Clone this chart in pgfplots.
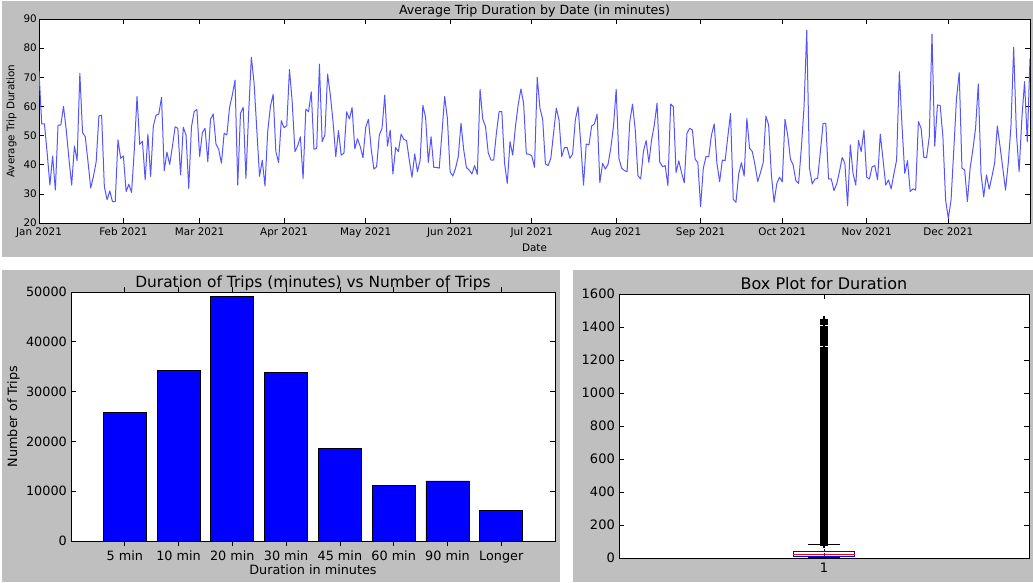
\documentclass[border=0pt]{standalone}
\usepackage{fontspec}
\setmainfont{DejaVu Sans}
\usepackage{pgfplots}
\usepackage{pgfplotstable}
\pgfplotsset{compat=1.18}

\definecolor{panelgrey}{gray}{0.75}
\definecolor{lineblue}{RGB}{85,85,255}

% daily average trip duration, 1 Jan 2021 .. 31 Dec 2021 (one row per day)
\pgfplotstableread[row sep=\\]{
dur\\
72\\54\\54\\44\\33\\43\\31.3\\
53.6\\53.6\\60\\52\\42\\33\\46.4\\
41.4\\71.4\\51\\49.6\\41\\32\\36\\
41\\56.7\\57\\32.5\\28\\31\\27.3\\
27.3\\48.5\\42.2\\43\\30.8\\33.3\\30.5\\
45\\63.4\\47\\48\\34.8\\50.5\\36\\
53.3\\57\\57.4\\63.1\\38\\44.3\\40.1\\
46.2\\53\\52.5\\36.5\\52.8\\50.2\\31.9\\
53\\58.2\\59\\42.8\\51\\52.5\\41\\
55.6\\57.4\\47.1\\45.3\\40.5\\50.8\\50.2\\
59.7\\63.9\\69\\33\\57.6\\59.7\\35.3\\
57.6\\76.9\\68\\52\\36\\41.5\\32.7\\
51.3\\60\\64.2\\44.5\\40.8\\55.1\\52.7\\
53.4\\72.7\\61.6\\44.5\\46.4\\49.6\\35.3\\
59.1\\58.2\\65\\45.3\\45.6\\74.5\\47.9\\
50.2\\71.1\\64\\54.8\\42.8\\51.7\\43.3\\
43.9\\58.2\\55.7\\59.6\\45.4\\48.9\\46.2\\
42.4\\52.8\\55.6\\45.6\\38.5\\39.3\\50.2\\
52.5\\63.9\\46.4\\51.9\\36.8\\45.9\\44.5\\
50.5\\48.7\\48.3\\41.6\\35.7\\43.7\\37.6\\
41.6\\60.4\\56.2\\40.8\\49.6\\39.1\\39.1\\
38.8\\50.8\\63.4\\55.9\\37.6\\36.1\\38.8\\
42.8\\54.2\\45.1\\39\\38.2\\36.8\\39.7\\
36.7\\65.9\\55.6\\53.1\\44.1\\41.6\\41.6\\
50.8\\58.2\\58.2\\40.5\\33.6\\47.9\\43.3\\
53.1\\60.5\\66\\61.1\\43.7\\43.6\\43\\
39.1\\70\\59.4\\55.6\\40.3\\39.7\\42.2\\
50.8\\59.4\\55.4\\42.8\\45.9\\45.9\\42.2\\
43.7\\55.4\\59.9\\47.1\\33\\47.1\\46.8\\
53.3\\54\\57.4\\33.8\\40.5\\38.5\\40.1\\
45.6\\53.1\\65.9\\42.2\\38.8\\38\\37.6\\
54.8\\60.8\\51.9\\36.2\\35.1\\44.5\\48.3\\
40.8\\48.5\\53.6\\61.1\\41\\39.3\\39.7\\
32.8\\60.8\\59.9\\37.3\\41.3\\37.3\\33.8\\
50.8\\52.5\\51.9\\41.9\\40.7\\25.6\\38.8\\
42.8\\42.8\\50.2\\54\\40.5\\34.2\\41.6\\
41.4\\49.6\\57.6\\28.1\\27.1\\36.8\\40.7\\
36.1\\55.9\\45.6\\44.5\\39.9\\34.2\\37.3\\
40.7\\56.7\\53.6\\36.5\\27.1\\33.6\\35.7\\
34.1\\55.6\\50.2\\41.9\\39.9\\34.5\\33.6\\
45.6\\59.9\\86.2\\38.8\\33.4\\35.1\\35.3\\
44.5\\54.2\\54.2\\35.1\\35.1\\31.1\\33.4\\
37.6\\42.5\\40.5\\25.9\\46.8\\37\\33\\
48.3\\44.5\\51.9\\35.7\\35.1\\39.3\\39.7\\
34.8\\50.5\\41.9\\33\\34.8\\31.7\\36.8\\
41.6\\71.9\\53.1\\37\\41.4\\30.8\\31.7\\
31.3\\54.8\\52.5\\42.5\\42.4\\49.6\\84.8\\
46.4\\60.5\\60.3\\49.6\\27.9\\21.6\\27.9\\
45.1\\62.8\\71.6\\38.8\\38.2\\27.3\\38.8\\
45.1\\52.5\\67.7\\37\\29\\36.5\\31.6\\
35.9\\40.5\\53.3\\46.2\\38.8\\31.3\\40.5\\
53.1\\80.3\\50.8\\37.6\\55.9\\68.5\\47.9\\
76.5\\
}\tripdur

% trips per duration bucket
\pgfplotstableread{
idx trips
0 25800
1 34300
2 49100
3 33900
4 18600
5 11100
6 12050
7 6100
}\buckets

% durations beyond the upper whisker
\pgfplotstableread[row sep=\\]{
d\\
82\\92\\102\\112\\122\\132\\142\\152\\162\\172\\182\\192\\202\\212\\222\\232\\242\\252\\262\\272\\
282\\292\\302\\312\\322\\332\\342\\352\\362\\372\\382\\392\\402\\412\\422\\432\\442\\452\\462\\472\\
482\\492\\502\\512\\522\\532\\542\\552\\562\\572\\582\\592\\602\\612\\622\\632\\642\\652\\662\\672\\
682\\692\\702\\712\\722\\732\\742\\752\\762\\772\\782\\792\\802\\812\\822\\832\\842\\852\\862\\872\\
882\\892\\902\\912\\922\\932\\942\\952\\962\\972\\982\\992\\1002\\1012\\1022\\1032\\1042\\1052\\1062\\1072\\
1082\\1092\\1102\\1112\\1122\\1132\\1142\\1152\\1162\\1172\\1182\\1192\\1202\\1212\\1222\\1232\\1242\\1252\\1262\\1275\\
1290\\1302\\1312\\1322\\1332\\1342\\1352\\1362\\1372\\1382\\1392\\1402\\1418\\1428\\1436\\1444\\
}\fliers

\pgfplotsset{
  mplclassic/.style={
    scale only axis,
    axis background/.style={fill=white},
    axis line style={black, line width=0.9pt},
    tick align=inside,
    tick pos=both,
    major tick length=5pt,
    every tick/.style={black, line width=0.7pt},
    minor tick num=0,
    /pgf/number format/assume math mode=true,
    /pgf/number format/1000 sep={},
    scaled ticks=false,
    enlargelimits=false,
    every axis title shift=0pt,
  }
}

\begin{document}
\begin{tikzpicture}
\useasboundingbox (0,0) rectangle (1033pt,582pt);
\fill[white] (0,0) rectangle (1033pt,582pt);
\fill[panelgrey] (2pt,325pt) rectangle (1033pt,581pt);
\fill[panelgrey] (2pt,0pt) rectangle (560pt,312pt);
\fill[panelgrey] (573pt,0pt) rectangle (1033pt,312pt);

% ---- daily averages ----
\begin{axis}[mplclassic,
  at={(39pt,359pt)}, anchor=south west,
  width=991pt, height=204pt,
  xmin=0, xmax=364, ymin=20, ymax=90,
  ytick={20,30,...,90},
  xtick={0,31,59,90,120,151,181,212,243,273,304,334},
  xticklabels={Jan 2021,Feb 2021,Mar 2021,Apr 2021,May 2021,Jun 2021,Jul 2021,Aug 2021,Sep 2021,Oct 2021,Nov 2021,Dec 2021},
  tick label style={font=\fontsize{10.4}{12}\selectfont},
  xticklabel style={anchor=base, inner sep=0pt, yshift=-12.6pt},
  yticklabel style={anchor=east, inner sep=0pt, xshift=-2pt},
  title={Average Trip Duration by Date (in minutes)},
  title style={font=\fontsize{12.6}{14}\selectfont, at={(axis description cs:0.5,1)}, anchor=base, inner sep=0pt, yshift=4.5pt},
  xlabel={Date},
  every axis x label/.style={at={(axis description cs:0.5,0)}, anchor=base, inner sep=0pt, yshift=-28.5pt, font=\fontsize{10.4}{12}\selectfont},
  ylabel={Average Trip Duration},
  every axis y label/.style={at={(axis description cs:-0.02775,0.5)}, anchor=center, rotate=90, inner sep=0pt, font=\fontsize{10.4}{12}\selectfont},
]
\addplot[lineblue, line width=1pt, line join=round] table[x expr=\coordindex, y=dur] {\tripdur};
\end{axis}

% ---- trips per duration bucket ----
\begin{axis}[mplclassic,
  at={(71pt,41pt)}, anchor=south west,
  width=484pt, height=249pt,
  xmin=-1, xmax=8, ymin=0, ymax=50000,
  ytick={0,10000,...,50000},
  xtick={0,...,7},
  xticklabels={5 min,10 min,20 min,30 min,45 min,60 min,90 min,Longer},
  tick label style={font=\fontsize{12.8}{15}\selectfont},
  xticklabel style={anchor=base, inner sep=0pt, yshift=-14.3pt},
  yticklabel style={anchor=east, inner sep=0pt, xshift=-4pt},
  title={Duration of Trips (minutes) vs Number of Trips},
  title style={font=\fontsize{15.4}{18}\selectfont, at={(axis description cs:0.5,1)}, anchor=base, inner sep=0pt, yshift=4.8pt},
  xlabel={Duration in minutes},
  every axis x label/.style={at={(axis description cs:0.5,0)}, anchor=base, inner sep=0pt, yshift=-33pt, font=\fontsize{12.8}{15}\selectfont},
  ylabel={Number of Trips},
  every axis y label/.style={at={(axis description cs:-0.1188,0.5)}, anchor=center, rotate=90, inner sep=0pt, font=\fontsize{12.8}{15}\selectfont},
  ybar, bar width=0.8,
]
\addplot[fill=blue, draw=black, line width=0.8pt] table[x=idx, y=trips] {\buckets};
\end{axis}

% ---- box plot of durations ----
\begin{axis}[mplclassic,
  at={(619pt,24pt)}, anchor=south west,
  width=410pt, height=264pt,
  xmin=0.5, xmax=1.5, ymin=0, ymax=1600,
  ytick={0,200,...,1600},
  xtick={1},
  tick label style={font=\fontsize{13}{15}\selectfont},
  xticklabel style={anchor=base, inner sep=0pt, yshift=-14pt},
  yticklabel style={anchor=east, inner sep=0pt, xshift=-4pt},
  title={Box Plot for Duration},
  title style={font=\fontsize{16}{19}\selectfont, at={(axis description cs:0.5,1)}, anchor=base, inner sep=0pt, yshift=5pt},
  clip=false,
]
\addplot[only marks, mark=+, mark size=4pt, black, mark options={line width=2.2pt}] table[x expr=1, y=d] {\fliers};
\addplot[blue, dashed, line width=0.8pt] coordinates {(1,38) (1,80)};
\addplot[blue, dashed, line width=0.8pt] coordinates {(1,8) (1,1)};
\addplot[black, line width=0.9pt] coordinates {(0.9615,80) (1.0385,80)};
\addplot[black, line width=1.4pt] coordinates {(0.9615,1) (1.0385,1)};
\addplot[blue, line width=1pt] coordinates {(0.925,8) (1.075,8) (1.075,38) (0.925,38) (0.925,8)};
\addplot[red, line width=1pt] coordinates {(0.925,20) (1.075,20)};
\end{axis}
\end{tikzpicture}
\end{document}
